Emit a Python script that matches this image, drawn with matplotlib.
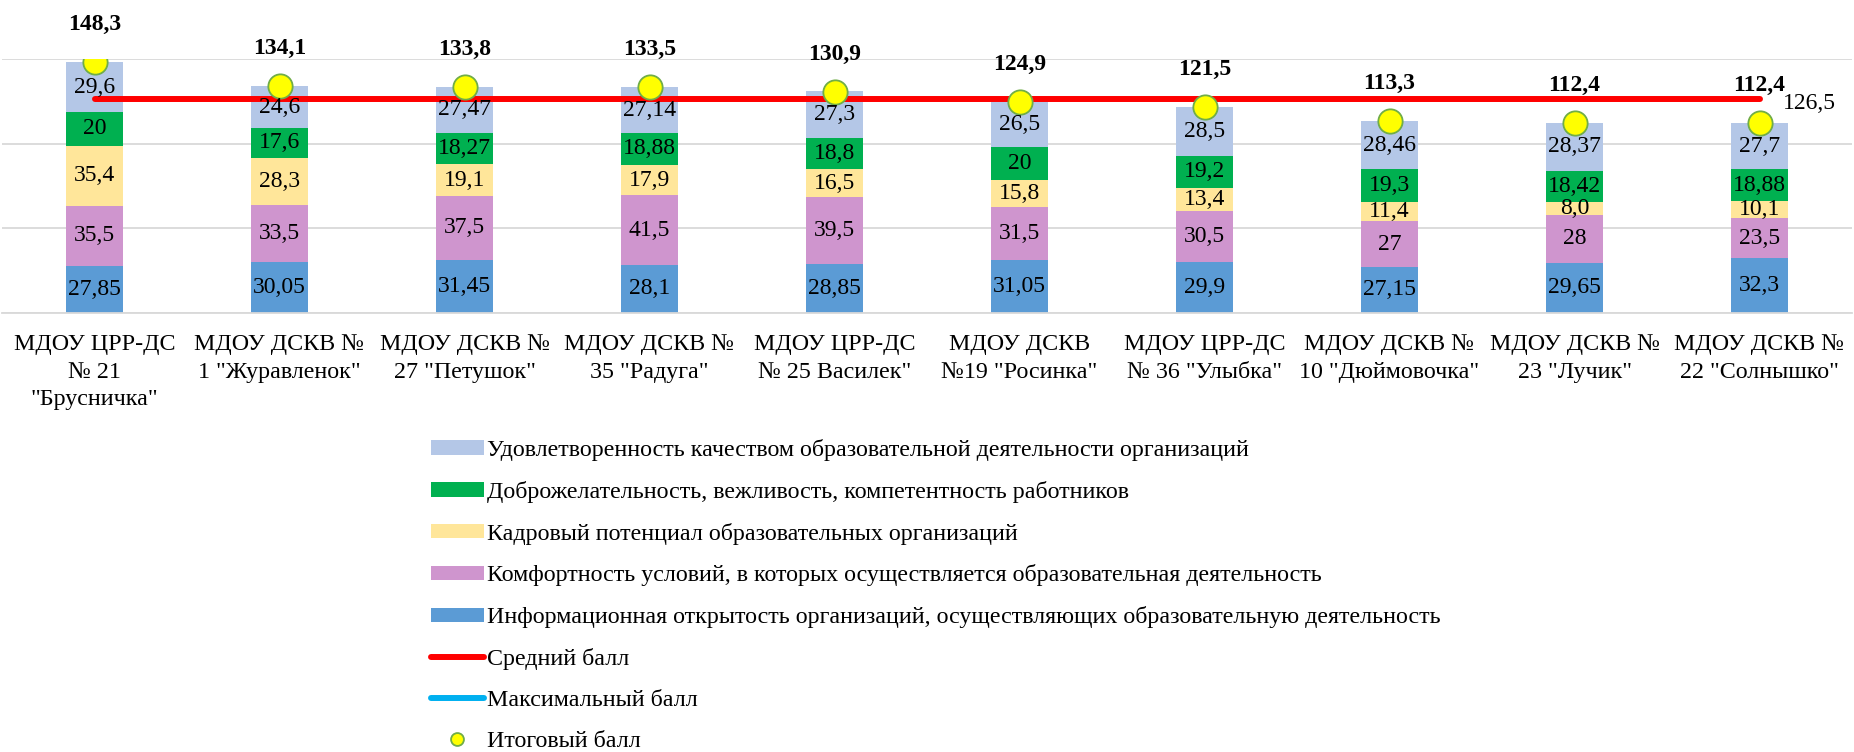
import numpy as np
import matplotlib
matplotlib.use('Agg')
import matplotlib.pyplot as plt

plt.rcParams['font.family'] = ['Liberation Serif', 'DejaVu Serif']

# categories (x axis)
schools = ['МДОУ ЦРР-ДС\n№ 21\n"Брусничка"',
           'МДОУ ДСКВ №\n1 "Журавленок"',
           'МДОУ ДСКВ №\n27 "Петушок"',
           'МДОУ ДСКВ №\n35 "Радуга"',
           'МДОУ ЦРР-ДС\n№ 25 Василек"',
           'МДОУ ДСКВ\n№19 "Росинка"',
           'МДОУ ЦРР-ДС\n№ 36 "Улыбка"',
           'МДОУ ДСКВ №\n10 "Дюймовочка"',
           'МДОУ ДСКВ №\n23 "Лучик"',
           'МДОУ ДСКВ №\n22 "Солнышко"']

# stacked series, bottom to top
info_open = [27.85, 30.05, 31.45, 28.1, 28.85, 31.05, 29.9, 27.15, 29.65, 32.3]
comfort = [35.5, 33.5, 37.5, 41.5, 39.5, 31.5, 30.5, 27, 28, 23.5]
staff = [35.4, 28.3, 19.1, 17.9, 16.5, 15.8, 13.4, 11.4, 8.0, 10.1]
kindness = [20, 17.6, 18.27, 18.88, 18.8, 20, 19.2, 19.3, 18.42, 18.88]
satisfaction = [29.6, 24.6, 27.47, 27.14, 27.3, 26.5, 28.5, 28.46, 28.37, 27.7]

total_score = [148.3, 134.1, 133.8, 133.5, 130.9, 124.9, 121.5, 113.3, 112.4, 112.4]
mean_score = [126.5, 126.5, 126.5, 126.5, 126.5, 126.5, 126.5, 126.5, 126.5, 126.5]
max_score = []  # not visible on the chart, legend only

series = [
    (info_open, '#5B9BD5', 'Информационная открытость организаций, осуществляющих образовательную деятельность'),
    (comfort, '#CF95CE', 'Комфортность условий, в которых осуществляется образовательная деятельность'),
    (staff, '#FFE69A', 'Кадровый потенциал образовательных организаций'),
    (kindness, '#00B050', 'Доброжелательность, вежливость, компетентность работников'),
    (satisfaction, '#B4C7E7', 'Удовлетворенность качеством образовательной деятельности организаций'),
]


def fmt(v):
    return str(v).replace('.', ',')


fig = plt.figure(figsize=(18.54, 7.52), dpi=100)
ax = fig.add_axes([2 / 1854, 1 - 312.7 / 752, 1850 / 1854, (312.7 - 59.3) / 752])

x = np.arange(len(schools))
bottom = np.zeros(len(schools))
bar_handles = []
for vals, color, name in series:
    bars = ax.bar(x, vals, width=0.31, bottom=bottom, color=color, label=name, zorder=2)
    for xi, b, v in zip(x, bottom, vals):
        ax.text(xi, b + v / 2, fmt(v), ha='center', va='center', fontsize=17, zorder=5)
    bottom += np.array(vals)
    bar_handles.append(bars)

mean_line, = ax.plot(x, mean_score, color='#FF0000', lw=4.3, solid_capstyle='round',
                     zorder=3, label='Средний балл')
ax.annotate(fmt(mean_score[-1]), (x[-1], mean_score[-1]), xytext=(17, -3.5),
            textcoords='offset points', ha='left', va='center', fontsize=17)
max_line, = ax.plot(x[:len(max_score)], max_score, color='#00B0F0', lw=4.3,
                    solid_capstyle='round', label='Максимальный балл')

total_pts, = ax.plot(x, total_score, ls='none', marker='o', ms=17.5, mfc='#FFFF00',
                     mec='#70AD47', mew=1.3, zorder=4, label='Итоговый балл')
for xi, v in zip(x, total_score):
    ax.annotate(fmt(v), (xi, v), xytext=(0, 27), textcoords='offset points',
                ha='center', va='center', fontsize=17, fontweight='bold',
                annotation_clip=False)

ax.set_xlim(-0.5, len(schools) - 0.5)
ax.set_ylim(0, 150)
ax.set_yticks([0, 50, 100, 150])
ax.yaxis.grid(True, color='#D9D9D9', lw=1.3, zorder=0)
ax.set_axisbelow(True)
ax.set_yticklabels([])
ax.tick_params(axis='y', length=0)
ax.tick_params(axis='x', length=0, pad=15.5, labelsize=17.3)
ax.set_xticks(x)
ax.set_xticklabels(schools, linespacing=1.4)
for s in ['top', 'right', 'left']:
    ax.spines[s].set_visible(False)
ax.spines['bottom'].set_color('#D9D9D9')
ax.spines['bottom'].set_linewidth(1.3)

handles = bar_handles[::-1] + [mean_line, max_line, total_pts]
labels = [h.get_label() for h in handles]
fig.legend(handles, labels, loc='upper left', bbox_to_anchor=(431 / 1854, 1 - 439 / 752),
           frameon=False, fontsize=17.3, handlelength=2.2, handleheight=0.55,
           handletextpad=0.15, labelspacing=0.825, borderpad=0, borderaxespad=0,
           markerscale=0.53)

fig.savefig('out.png', dpi=100)
